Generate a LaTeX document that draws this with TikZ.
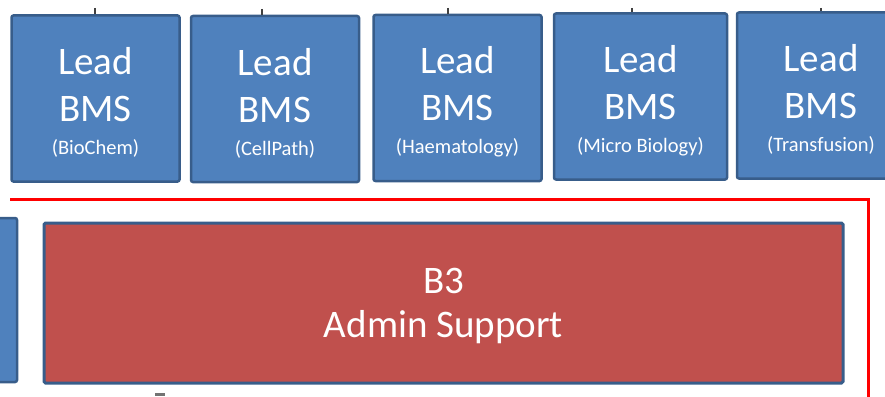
\documentclass[tikz,border=0pt]{standalone}
\usepackage{fontspec}
\setmainfont{Carlito}
\usetikzlibrary{positioning}
\definecolor{boxblue}{HTML}{4F81BD}
\definecolor{boxedge}{HTML}{385D8A}
\definecolor{boxred}{HTML}{C0504D}
\newcommand{\subj}[1]{{\fontsize{20.5}{22}\selectfont #1}}

\begin{document}
\begin{tikzpicture}[
    x=1pt, y=-1pt,
    font=\fontsize{39}{47}\selectfont
]
\tikzset{
    leadbox/.style = {rectangle, rounded corners=2pt, draw=boxedge, line width=2.5pt, fill=boxblue, minimum width=168pt, minimum height=166pt, inner sep=0pt},
    leadtext/.style = {text=white, align=center, yshift=-4pt},
    adminbox/.style = {rectangle, rounded corners=1.5pt, draw=boxedge, line width=3pt, fill=boxred, minimum width=799pt, minimum height=160pt, inner sep=0pt},
    admintext/.style = {text=white, align=center, yshift=-3pt, font=\fontsize{39}{44}\selectfont},
    frame/.style = {red, line width=3pt},
    tick/.style = {line width=2pt, black!75}
}
\clip (0,0) rectangle (885,396);
% top row
\node[leadbox, label={[leadtext]center:{Lead\\BMS\\[-14pt]\subj{(BioChem)}}}] at (95.5,98.5) (bio) {};
\node[leadbox, label={[leadtext]center:{Lead\\BMS\\[-14pt]\subj{(CellPath)}}}] at (275,99) (cell) {};
\node[leadbox, label={[leadtext]center:{Lead\\BMS\\[-14pt]\subj{(Haematology)}}}] at (457.5,98) (haem) {};
\node[leadbox, minimum width=173pt, label={[leadtext]center:{Lead\\BMS\\[-14pt]\subj{(Micro Biology)}}}] at (640.5,96.5) (micro) {};
\node[leadbox, label={[leadtext]center:{Lead\\BMS\\[-14pt]\subj{(Transfusion)}}}] at (821,95.5) (trans) {};
\coordinate (tbio) at (95,8);
\coordinate (tcell) at (262,9);
\coordinate (thaem) at (448,8);
\coordinate (tmicro) at (632,8);
\coordinate (ttrans) at (821,8);
\draw[tick] (tbio) -- (tbio |- bio.north);
\draw[tick] (tcell) -- (tcell |- cell.north);
\draw[tick] (thaem) -- (thaem |- haem.north);
\draw[tick] (tmicro) -- (tmicro |- micro.north);
\draw[tick] (ttrans) -- (ttrans |- trans.north);
% red frame
\coordinate (fa) at (10,199);
\coordinate (fb) at (868,199);
\coordinate (fc) at (868,400);
\draw[frame] (fa) -- (fb) -- (fc);
% bottom row
\node[leadbox, minimum width=114pt, minimum height=164pt] at (-40,300) (side) {};
\node[adminbox, label={[admintext]center:{B3\\Admin Support}}] at (443.5,303) (admin) {};
\coordinate (tb) at (155,394.5);
\draw[tick, line width=3pt, black!55] (tb) -- ++(10,0);
\end{tikzpicture}
\end{document}
